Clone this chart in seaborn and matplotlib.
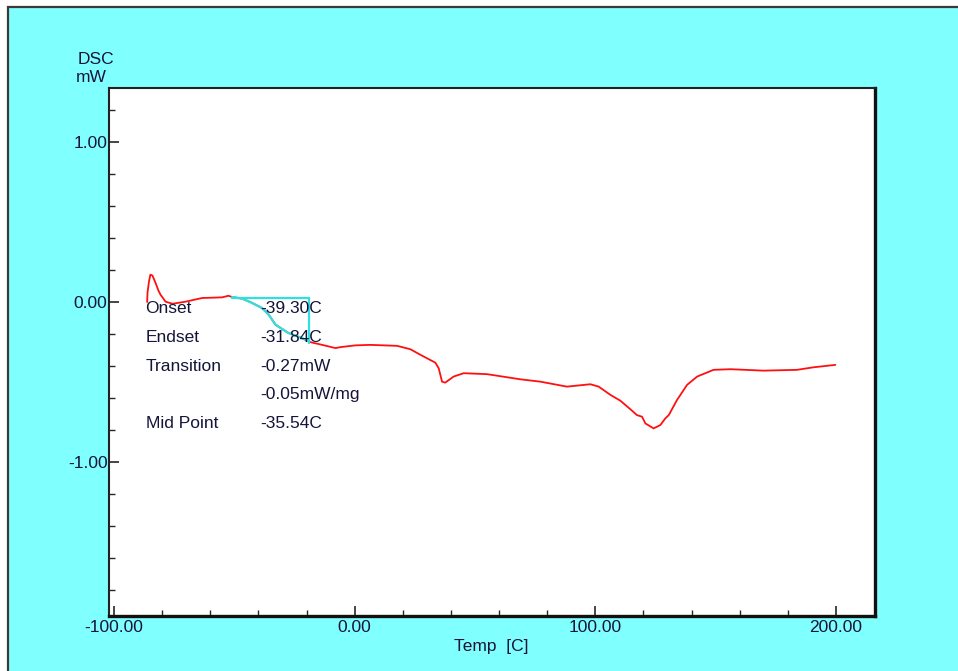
import matplotlib
matplotlib.use("Agg")
import matplotlib.pyplot as plt
from matplotlib.patches import Rectangle
from matplotlib.ticker import MultipleLocator, FormatStrFormatter
import numpy as np
import pandas as pd
import seaborn as sns

# DSC heat-flow trace (temperature in C, heat flow in mW)
temp_c = [-86.25, -86.1, -85.5, -84.9, -84.05, -82.8, -81.55, -80.7, -78.6, -75.7,
          -70.3, -63.4, -55.1, -52.5, -50.9, -46.7, -42.6, -38.5, -35.7, -32.9,
          -27.5, -21.85, -18.4, -13.5, -8.0, -5.9, 0.3, 6.5, 17.6, 23.1,
          27.3, 33.5, 34.9, 36.3, 37.6, 41.1, 45.3, 55.0, 68.8, 77.2,
          88.2, 97.9, 101.4, 106.3, 110.4, 114.6, 117.3, 119.4, 120.8, 124.2,
          127.0, 129.1, 130.5, 133.9, 138.1, 142.3, 149.1, 156.1, 169.9, 183.8,
          190.7, 199.7]
heat_flow_mw = [0.0, 0.058, 0.127, 0.171, 0.165, 0.121, 0.071, 0.046, 0.002, -0.011,
                0.002, 0.025, 0.029, 0.039, 0.031, 0.021, -0.006, -0.038, -0.080, -0.142,
                -0.194, -0.226, -0.251, -0.268, -0.288, -0.282, -0.271, -0.268, -0.274, -0.295,
                -0.330, -0.379, -0.414, -0.498, -0.504, -0.466, -0.445, -0.451, -0.483, -0.498,
                -0.529, -0.514, -0.529, -0.581, -0.617, -0.671, -0.707, -0.717, -0.759, -0.790,
                -0.769, -0.727, -0.707, -0.613, -0.518, -0.466, -0.424, -0.420, -0.429, -0.424,
                -0.408, -0.393]

# Glass-transition analysis window and construction lines
analysis_start = -50.9
analysis_end = -19.1
baseline_level = 0.025
step_bottom = -0.257

result_names = ["Onset", "Endset", "Transition", "", "Mid Point"]
result_values = ["-39.30C", "-31.84C", "-0.27mW", "-0.05mW/mg", "-35.54C"]
result_rows_y = [-0.042, -0.224, -0.406, -0.575, -0.757]

sns.set_style("ticks")
plt.rcParams["font.family"] = ["Liberation Sans", "DejaVu Sans"]

W, H = 958, 671
FS = 12.5
fig = plt.figure(figsize=(W / 100, H / 100), dpi=100, facecolor="white")

# cyan panel with dark frame, kept behind the axes
fig.patches.append(Rectangle((8 / W, -0.05), 1.1, 1 - 7 / H + 0.05,
                             transform=fig.transFigure, facecolor="#80FFFF",
                             edgecolor="#3a3a3a", linewidth=1.6, zorder=-10))

ax = fig.add_axes([109 / W, 1 - 616 / H, (875 - 109) / W, (616 - 88) / H])
ax.set_zorder(1)
ax.set_facecolor("white")

df = pd.DataFrame({"Temp": temp_c, "DSC": heat_flow_mw})
sns.lineplot(data=df, x="Temp", y="DSC", sort=False, color="#ff1010",
             linewidth=1.3, ax=ax, zorder=3)

seg = df[(df["Temp"] >= analysis_start) & (df["Temp"] <= analysis_end)]
seg_x = np.array([analysis_start] + list(seg["Temp"]) + [analysis_end])
seg_y = np.interp(seg_x, temp_c, heat_flow_mw)
ax.plot(seg_x, seg_y, color="#30e0e0", linewidth=1.6, zorder=4)
ax.plot([analysis_start, analysis_end], [baseline_level, baseline_level],
        color="#30e0e0", linewidth=1.6, zorder=4)
ax.plot([analysis_end, analysis_end], [baseline_level, step_bottom],
        color="#30e0e0", linewidth=1.6, zorder=4)

text_color = "#14143a"
for name, value, yy in zip(result_names, result_values, result_rows_y):
    if name:
        ax.text(-86.9, yy, name, ha="left", va="center", fontsize=FS,
                color=text_color, zorder=5)
    ax.text(-39.2, yy, value, ha="left", va="center", fontsize=FS,
            color=text_color, zorder=5)

ax.set_xlim(-102.1, 216.2)
ax.set_ylim(-1.9625, 1.3375)
ax.xaxis.set_major_locator(MultipleLocator(100))
ax.xaxis.set_minor_locator(MultipleLocator(20))
ax.yaxis.set_major_locator(MultipleLocator(1))
ax.yaxis.set_minor_locator(MultipleLocator(0.2))
ax.xaxis.set_major_formatter(FormatStrFormatter("%.2f"))
ax.yaxis.set_major_formatter(FormatStrFormatter("%.2f"))
ax.tick_params(which="major", direction="in", length=7, width=1.2,
               labelsize=FS, labelcolor=text_color, pad=3)
ax.tick_params(which="minor", direction="in", length=4, width=1.0)
ax.tick_params(axis="y", pad=1)

for side in ["top", "left"]:
    ax.spines[side].set_linewidth(1.5)
    ax.spines[side].set_color("#222222")
for side in ["right", "bottom"]:
    ax.spines[side].set_linewidth(2.4)
    ax.spines[side].set_color("#111111")

ax.set_xlabel("")
ax.set_ylabel("")
fig.text(491 / W, 1 - 647 / H, "Temp  [C]", ha="center", va="center",
         fontsize=FS, color=text_color)
fig.text(78 / W, 1 - 59 / H, "DSC", ha="left", va="center", fontsize=FS,
         color=text_color)
fig.text(76 / W, 1 - 78 / H, "mW", ha="left", va="center", fontsize=FS,
         color=text_color)

fig.savefig("out.png", dpi=100, facecolor="white")
